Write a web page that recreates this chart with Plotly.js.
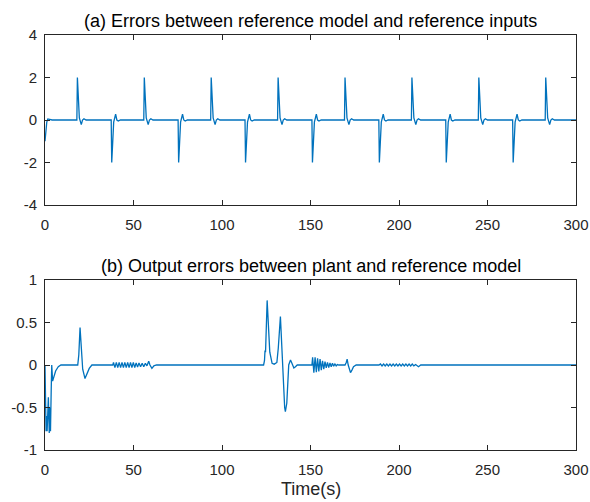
<!DOCTYPE html>
<html>
<head>
<meta charset="utf-8">
<script src="https://cdn.plot.ly/plotly-3.0.1.min.js"></script>
<style>html,body{margin:0;padding:0;background:#fff;}#chart{width:590px;height:502px;}</style>
</head>
<body>
<div id="chart"></div>
<script>
// ---- Data ----
const titleA = "(a) Errors between reference model and reference inputs";
const titleB = "(b) Output errors between plant and reference model";
const xLabel = "Time(s)";
const xTicks = [0, 50, 100, 150, 200, 250, 300];
const yTicksA = [-4, -2, 0, 2, 4];
const yTickTextA = ["-4", "-2", "0", "2", "4"];
const yTicksB = [-1, -0.5, 0, 0.5, 1];
const yTickTextB = ["-1", "-0.5", "0", "0.5", "1"];

// (a) errors between reference model and reference inputs
const timeA = [
  0, 0.5, 1.0, 1.6, 2.5, 4,
  18.0, 18.3, 19.4, 20.5, 21.2, 22.0, 23.2,
  37.4, 37.7, 38.8, 39.9, 40.6, 41.4, 42.6,
  55.8, 56.1, 57.2, 58.3, 59.0, 59.8, 61.0,
  75.2, 75.5, 76.6, 77.7, 78.4, 79.2, 80.4,
  93.6, 93.9, 95.0, 96.1, 96.8, 97.6, 98.8,
  113.0, 113.3, 114.4, 115.5, 116.2, 117.0, 118.2,
  131.4, 131.7, 132.8, 133.9, 134.6, 135.4, 136.6,
  150.8, 151.1, 152.2, 153.3, 154.0, 154.8, 156.0,
  169.2, 169.5, 170.6, 171.7, 172.4, 173.2, 174.4,
  188.6, 188.9, 190.0, 191.1, 191.8, 192.6, 193.8,
  207.0, 207.3, 208.4, 209.5, 210.2, 211.0, 212.2,
  226.4, 226.7, 227.8, 228.9, 229.6, 230.4, 231.6,
  244.8, 245.1, 246.2, 247.3, 248.0, 248.8, 250.0,
  264.2, 264.5, 265.6, 266.7, 267.4, 268.2, 269.4,
  282.6, 282.9, 284.0, 285.1, 285.8, 286.6, 287.8,
  300
];
const errA = [
  -1.0, -0.45, -0.1, 0.05, 0.02, 0,
  0, 2, 0.1, -0.22, 0, 0.06, 0,
  0, -2, -0.1, 0.27, 0, -0.05, 0,
  0, 2, 0.1, -0.22, 0, 0.06, 0,
  0, -2, -0.1, 0.27, 0, -0.05, 0,
  0, 2, 0.1, -0.22, 0, 0.06, 0,
  0, -2, -0.1, 0.27, 0, -0.05, 0,
  0, 2, 0.1, -0.22, 0, 0.06, 0,
  0, -2, -0.1, 0.27, 0, -0.05, 0,
  0, 2, 0.1, -0.22, 0, 0.06, 0,
  0, -2, -0.1, 0.27, 0, -0.05, 0,
  0, 2, 0.1, -0.22, 0, 0.06, 0,
  0, -2, -0.1, 0.27, 0, -0.05, 0,
  0, 2, 0.1, -0.22, 0, 0.06, 0,
  0, -2, -0.1, 0.27, 0, -0.05, 0,
  0, 2, 0.1, -0.22, 0, 0.06, 0,
  0
];

// (b) output errors between plant and reference model
const timeB = [
  0, 0.2, 0.6, 1.0, 1.2, 1.9, 2.4, 2.8, 3.1, 3.5, 3.8, 4.3, 5.0, 6.0, 7.5, 9,
  18.5, 19.1, 19.8, 20.5, 21.3, 22.6, 23.6, 25.0, 26.5,
  38.3, 38.7, 39.5, 40.3, 41.1, 41.9, 42.7, 43.5, 44.3, 45.1, 45.9, 46.7, 47.5,
  48.3, 49.1, 49.9, 50.7, 51.5, 52.3, 53.1, 54.0, 54.9, 55.8, 56.7, 57.6,
  58.6, 59.3, 60.4, 61.5, 63,
  123.5, 124.0, 124.3, 124.6, 125.5, 126.2, 127.0, 128.3, 129.5, 131.0, 131.8,
  133.0, 133.8, 134.5, 135.4, 135.8, 136.6, 137.7, 138.7, 139.5, 140.6, 141.5, 142.5,
  150.8, 151.2, 151.9, 152.6, 153.3, 154.0, 154.7, 155.4, 156.1, 156.8, 157.5,
  158.2, 158.9, 159.6, 160.3, 161.0, 161.7, 162.4, 163.1, 163.8, 164.5, 165.2, 166,
  169.5, 170.2, 170.7, 171.3, 172.6, 173.4, 174.3, 175.8,
  188.7, 189.5, 190.4, 191.3, 192.2, 193.1, 194.0, 194.9, 195.8, 196.7, 197.6,
  198.5, 199.4, 200.3, 201.2, 202.1, 203.0, 203.9, 204.8, 205.7, 206.6, 207.5,
  208.4, 209.4, 210.3, 211.0, 212.3,
  300
];
const errB = [
  0, -0.45, -0.78, -0.6, -0.78, -0.38, -0.8, -0.5, -0.78, -0.3, 0.0, -0.19, -0.15, -0.07, -0.02, 0,
  0, 0.12, 0.44, 0.2, -0.05, -0.16, -0.11, -0.04, 0,
  0, 0.03, -0.03, 0.03, -0.03, 0.03, -0.03, 0.03, -0.03, 0.03, -0.03, 0.03, -0.03,
  0.03, -0.03, 0.03, -0.03, 0.025, -0.025, 0.025, -0.02, 0.02, -0.02, 0.02, -0.01,
  0.045, 0.0, -0.04, -0.01, 0,
  0, 0.05, 0.17, 0.15, 0.76, 0.5, 0.15, 0.02, 0.01, 0.03, 0.2,
  0.57, 0.2, -0.2, -0.5, -0.55, -0.45, 0.0, 0.06, 0.02, -0.035, -0.02, 0,
  0, 0.09, -0.09, 0.09, -0.085, 0.08, -0.075, 0.07, -0.06, 0.05, -0.05,
  0.04, -0.035, 0.03, -0.03, 0.025, -0.02, 0.02, -0.015, 0.012, -0.01, 0.005, 0,
  0, 0.03, 0.07, 0.0, -0.09, -0.06, -0.02, 0,
  0, 0.012, -0.012, 0.012, -0.012, 0.012, -0.012, 0.012, -0.012, 0.012, -0.012,
  0.012, -0.012, 0.012, -0.012, 0.012, -0.012, 0.012, -0.012, 0.012, -0.012, 0.012,
  -0.01, 0.005, -0.015, -0.02, 0,
  0
];

// ---- Chart ----
const W = 590, H = 502;
const px = v => v / W;            // horizontal pixel -> paper
const py = v => (H - v) / H;      // vertical pixel (from top) -> paper
const FONT = "Liberation Sans, Arial, Helvetica, sans-serif";
const INK = "#262626";
const LINE = "#0072BD";

const common = {
  showline: true, linecolor: INK, linewidth: 1, mirror: "ticks",
  ticks: "inside", ticklen: 5, tickcolor: INK, tickwidth: 1,
  showgrid: false, zeroline: false, fixedrange: true,
  tickfont: {family: FONT, size: 15, color: INK}
};

const traces = [
  {x: timeA, y: errA, type: "scatter", mode: "lines", xaxis: "x", yaxis: "y",
   line: {color: LINE, width: 1.3}, hoverinfo: "skip"},
  {x: timeB, y: errB, type: "scatter", mode: "lines", xaxis: "x2", yaxis: "y2",
   line: {color: LINE, width: 1.3}, hoverinfo: "skip"}
];

const layout = {
  width: W, height: H, margin: {l: 0, r: 0, t: 0, b: 0},
  paper_bgcolor: "#fff", plot_bgcolor: "#fff", showlegend: false,
  font: {family: FONT, color: INK},
  xaxis: Object.assign({}, common, {domain: [px(45), px(576)], range: [0, 300],
    tickvals: xTicks, anchor: "y", ticklabelstandoff: 6}),
  yaxis: Object.assign({}, common, {domain: [py(205), py(35)], range: [-4, 4],
    tickvals: yTicksA, ticktext: yTickTextA, anchor: "x", ticklabelstandoff: 4}),
  xaxis2: Object.assign({}, common, {domain: [px(45), px(576)], range: [0, 300],
    tickvals: xTicks, anchor: "y2", ticklabelstandoff: 6}),
  yaxis2: Object.assign({}, common, {domain: [py(450), py(280)], range: [-1, 1],
    tickvals: yTicksB, ticktext: yTickTextB, anchor: "x2", ticklabelstandoff: 4}),
  annotations: [
    {text: titleA, xref: "paper", yref: "paper", x: px(310.5), y: py(21),
     xanchor: "center", yanchor: "middle", showarrow: false,
     font: {family: FONT, size: 18, color: "#000"}},
    {text: titleB, xref: "paper", yref: "paper", x: px(310.5), y: py(266),
     xanchor: "center", yanchor: "middle", showarrow: false,
     font: {family: FONT, size: 18, color: "#000"}},
    {text: xLabel, xref: "paper", yref: "paper", x: px(310.5), y: py(489),
     xanchor: "center", yanchor: "middle", showarrow: false,
     font: {family: FONT, size: 18, color: INK}}
  ]
};

Plotly.newPlot("chart", traces, layout, {staticPlot: true, displayModeBar: false});
</script>
</body>
</html>
